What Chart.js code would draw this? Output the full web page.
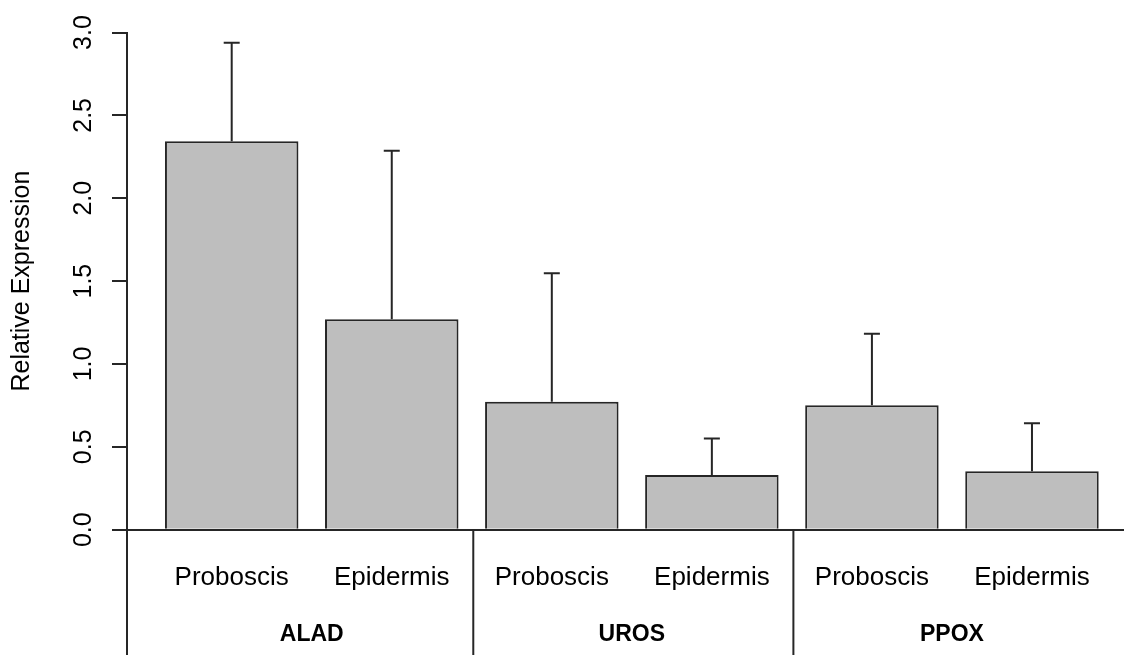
<!DOCTYPE html>
<html>
<head>
<meta charset="utf-8">
<title>Relative Expression</title>
<script src="https://cdn.jsdelivr.net/npm/chart.js@4/dist/chart.umd.min.js"></script>
<style>
  html, body { margin: 0; padding: 0; background: #fff; overflow: hidden; }
  #wrap { width: 1124px; height: 655px; position: relative; }
</style>
</head>
<body>
<div id="wrap"><canvas id="exprChart"></canvas></div>
<script>
// genes, tissues and the expression means with their (upper) error
const genes = ['ALAD', 'UROS', 'PPOX'];
const tissues = ['Proboscis', 'Epidermis'];
const means = [2.344, 1.270, 0.772, 0.330, 0.751, 0.352];
const errors = [0.594, 1.017, 0.775, 0.221, 0.432, 0.290];
const yTicks = [0, 0.5, 1, 1.5, 2, 2.5, 3];

const categories = genes.flatMap(() => tissues);

// barplot layout: bars of width 1 with a 0.2 gap in front of each
const barAt = i => 0.2 + 1.2 * i + 0.5;

const FONT = '"Liberation Sans", Arial, Helvetica, sans-serif';
const INK = '#262626';
const LW = 2;

const errorBars = {
  id: 'errorBars',
  afterDatasetsDraw(chart) {
    const { ctx, scales: { y } } = chart;
    const bars = chart.getDatasetMeta(0).data;
    ctx.save();
    ctx.strokeStyle = INK;
    ctx.lineWidth = LW;
    bars.forEach((bar, i) => {
      const top = y.getPixelForValue(means[i] + errors[i]);
      ctx.beginPath();
      ctx.moveTo(bar.x, bar.y);
      ctx.lineTo(bar.x, top);
      ctx.moveTo(bar.x - 8, top);
      ctx.lineTo(bar.x + 8, top);
      ctx.stroke();
    });
    ctx.restore();
  }
};

const axisText = {
  id: 'axisText',
  afterDraw(chart) {
    const { ctx, chartArea, scales: { y } } = chart;
    const bars = chart.getDatasetMeta(0).data;
    ctx.save();

    // y tick labels, turned to read upwards
    ctx.fillStyle = '#000';
    ctx.font = '25px ' + FONT;
    ctx.textAlign = 'center';
    ctx.textBaseline = 'middle';
    y.ticks.forEach((t, i) => {
      ctx.save();
      ctx.translate(84, y.getPixelForTick(i));
      ctx.rotate(-Math.PI / 2);
      ctx.fillText(t.label, 0, 0);
      ctx.restore();
    });

    // dividers between the gene blocks
    ctx.strokeStyle = INK;
    ctx.lineWidth = LW;
    const cuts = [chartArea.left];
    for (let g = 1; g < genes.length; g++) {
      const k = g * tissues.length;
      cuts.push((bars[k - 1].x + bars[k].x) / 2 + 1.5);
    }
    cuts.forEach(cx => {
      ctx.beginPath();
      ctx.moveTo(cx, chartArea.bottom);
      ctx.lineTo(cx, chart.height);
      ctx.stroke();
    });

    // gene names
    ctx.font = 'bold 23px ' + FONT;
    ctx.textBaseline = 'alphabetic';
    genes.forEach((g, n) => {
      const first = bars[n * tissues.length];
      const last = bars[(n + 1) * tissues.length - 1];
      ctx.fillText(g, (first.x + last.x) / 2, 641);
    });
    ctx.restore();
  }
};

const ctx = document.getElementById('exprChart').getContext('2d');
const exprChart = new Chart(ctx, {
  type: 'bar',
  data: {
    datasets: [{
      data: means.map((v, i) => ({ x: barAt(i), y: v })),
      backgroundColor: '#bebebe',
      borderColor: INK,
      borderWidth: LW,
      categoryPercentage: 1,
      barPercentage: 0.834
    }]
  },
  options: {
    responsive: true,
    maintainAspectRatio: false,
    animation: false,
    layout: { padding: { top: 32.5, right: 0, bottom: 0, left: 0 } },
    plugins: {
      legend: { display: false },
      tooltip: { enabled: false }
    },
    scales: {
      x: {
        type: 'linear',
        offset: false,
        min: -0.085,
        max: 7.39,
        afterBuildTicks: s => { s.ticks = categories.map((c, i) => ({ value: barAt(i) })); },
        afterFit: s => { s.height = 125.3; },
        grid: { display: false },
        border: { display: true, color: INK, width: LW },
        ticks: {
          autoSkip: false,
          maxRotation: 0,
          padding: 25,
          color: '#000',
          font: { family: FONT, size: 26 },
          callback: (v, i) => categories[i]
        }
      },
      y: {
        min: 0,
        max: 3,
        afterBuildTicks: s => { s.ticks = yTicks.map(v => ({ value: v })); },
        afterFit: s => { s.width = 127; },
        grid: {
          drawOnChartArea: false,
          drawTicks: true,
          tickLength: 15,
          color: INK,
          lineWidth: LW
        },
        border: { display: true, color: INK, width: LW },
        ticks: {
          display: false,
          callback: v => v.toFixed(1)
        },
        title: {
          display: true,
          text: 'Relative Expression',
          color: '#000',
          font: { family: FONT, size: 25 },
          padding: { top: 7.5, bottom: 0 }
        }
      }
    }
  },
  plugins: [errorBars, axisText]
});
</script>
</body>
</html>
